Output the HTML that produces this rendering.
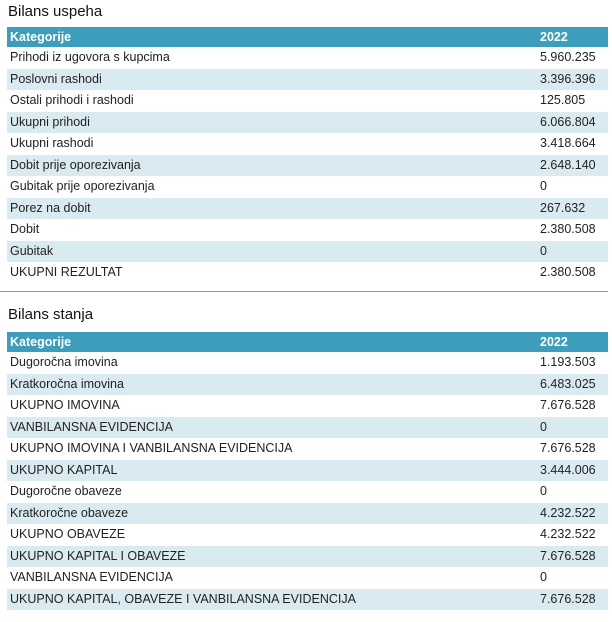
<!DOCTYPE html>
<html><head><style>
body{margin:0;width:612px;height:622px;background:#fff;font-family:"Liberation Sans",sans-serif;position:relative;overflow:hidden}
.t{position:absolute;left:8px;font-size:15px;color:#111}
table{position:absolute;left:7px;width:601px;border-collapse:collapse;font-size:12.5px;color:#222}
td{height:21.5px;padding:0 0 0 3px;line-height:21.5px;white-space:nowrap}
td.v{width:68px;padding-left:0}
tr.h td{background:#3d9dba;color:#fff;font-weight:bold;height:20px;line-height:20px;font-size:12.5px}
tr:nth-child(odd):not(.h) td{background:#d9ebf1}
.hr{position:absolute;left:0;width:608px;top:291px;border-top:1px solid #999}
</style></head><body>
<div class="t" style="top:3px">Bilans uspeha</div>
<table style="top:27px">
<tr class="h"><td>Kategorije</td><td class="v">2022</td></tr>
<tr><td>Prihodi iz ugovora s kupcima</td><td class="v">5.960.235</td></tr>
<tr><td>Poslovni rashodi</td><td class="v">3.396.396</td></tr>
<tr><td>Ostali prihodi i rashodi</td><td class="v">125.805</td></tr>
<tr><td>Ukupni prihodi</td><td class="v">6.066.804</td></tr>
<tr><td>Ukupni rashodi</td><td class="v">3.418.664</td></tr>
<tr><td>Dobit prije oporezivanja</td><td class="v">2.648.140</td></tr>
<tr><td>Gubitak prije oporezivanja</td><td class="v">0</td></tr>
<tr><td>Porez na dobit</td><td class="v">267.632</td></tr>
<tr><td>Dobit</td><td class="v">2.380.508</td></tr>
<tr><td>Gubitak</td><td class="v">0</td></tr>
<tr><td>UKUPNI REZULTAT</td><td class="v">2.380.508</td></tr>
</table>
<div class="hr"></div>
<div class="t" style="top:306px">Bilans stanja</div>
<table style="top:332px">
<tr class="h"><td>Kategorije</td><td class="v">2022</td></tr>
<tr><td>Dugoročna imovina</td><td class="v">1.193.503</td></tr>
<tr><td>Kratkoročna imovina</td><td class="v">6.483.025</td></tr>
<tr><td>UKUPNO IMOVINA</td><td class="v">7.676.528</td></tr>
<tr><td>VANBILANSNA EVIDENCIJA</td><td class="v">0</td></tr>
<tr><td>UKUPNO IMOVINA I VANBILANSNA EVIDENCIJA</td><td class="v">7.676.528</td></tr>
<tr><td>UKUPNO KAPITAL</td><td class="v">3.444.006</td></tr>
<tr><td>Dugoročne obaveze</td><td class="v">0</td></tr>
<tr><td>Kratkoročne obaveze</td><td class="v">4.232.522</td></tr>
<tr><td>UKUPNO OBAVEZE</td><td class="v">4.232.522</td></tr>
<tr><td>UKUPNO KAPITAL I OBAVEZE</td><td class="v">7.676.528</td></tr>
<tr><td>VANBILANSNA EVIDENCIJA</td><td class="v">0</td></tr>
<tr><td>UKUPNO KAPITAL, OBAVEZE I VANBILANSNA EVIDENCIJA</td><td class="v">7.676.528</td></tr>
</table>
</body></html>
